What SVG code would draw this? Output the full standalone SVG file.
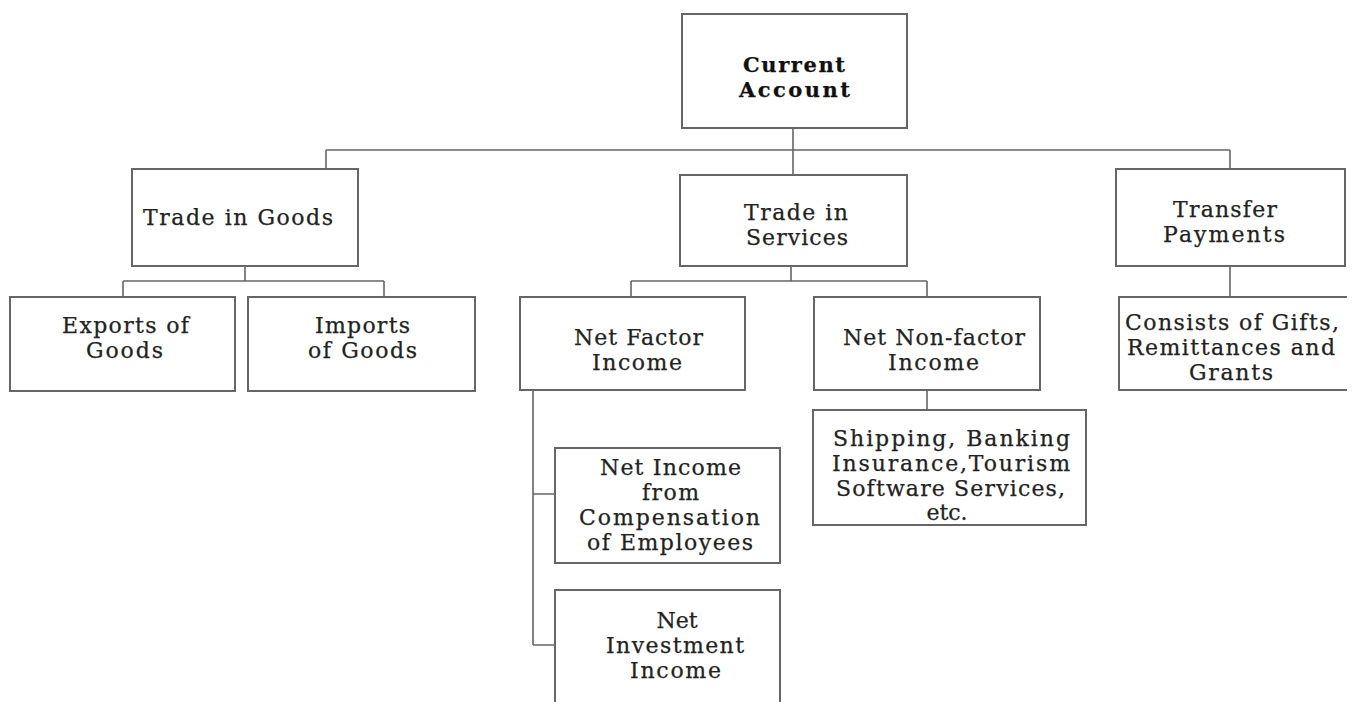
<svg xmlns="http://www.w3.org/2000/svg" width="1352" height="702" viewBox="0 0 1352 702">
<style>
.box{fill:#fff;stroke:#666;stroke-width:2}
.conn{fill:none;stroke:#666;stroke-width:1.6}
text{font-family:"DejaVu Serif","Liberation Serif",serif;font-size:22px;fill:#222;text-anchor:middle;stroke:#222;stroke-width:0.25}
.b{font-weight:bold;fill:#111;stroke:#111;font-size:21px}
</style>
<rect width="1352" height="702" fill="#fff"/>
<g id="connectors">
<path class="conn" d="M793,128 V150 M326,150 H1230 M326,150 V169 M793,150 V175 M1230,150 V169"/>
<path class="conn" d="M245,266 V281 M123,281 H384 M123,281 V297 M384,281 V297"/>
<path class="conn" d="M791,266 V281 M631,281 H927 M631,281 V297 M927,281 V297"/>
<path class="conn" d="M1230,266 V297"/>
<path class="conn" d="M533,390 V645 M533,494 H555 M533,645 H555"/>
<path class="conn" d="M927,390 V410"/>
</g>
<g id="current-account">
<rect class="box" x="682" y="14" width="225" height="114"/>
<text class="b" x="794" y="72" textLength="102" lengthAdjust="spacing">Current</text>
<text class="b" x="794.5" y="97" textLength="111" lengthAdjust="spacing">Account</text>
</g>
<g id="trade-goods">
<rect class="box" x="132" y="169" width="226" height="97"/>
<text x="238" y="225" textLength="190" lengthAdjust="spacing">Trade in Goods</text>
</g>
<g id="trade-services">
<rect class="box" x="680" y="175" width="227" height="91"/>
<text x="796" y="220" textLength="104" lengthAdjust="spacing">Trade in</text>
<text x="797" y="245" textLength="102" lengthAdjust="spacing">Services</text>
</g>
<g id="transfer-payments">
<rect class="box" x="1116" y="169" width="229" height="97"/>
<text x="1225" y="217" textLength="104" lengthAdjust="spacing">Transfer</text>
<text x="1224" y="242" textLength="122" lengthAdjust="spacing">Payments</text>
</g>
<g id="exports">
<rect class="box" x="10" y="297" width="225" height="94"/>
<text x="125.5" y="333" textLength="127" lengthAdjust="spacing">Exports of</text>
<text x="124.5" y="358" textLength="77" lengthAdjust="spacing">Goods</text>
</g>
<g id="imports">
<rect class="box" x="248" y="297" width="227" height="94"/>
<text x="362.5" y="333" textLength="95" lengthAdjust="spacing">Imports</text>
<text x="362.5" y="358" textLength="109" lengthAdjust="spacing">of Goods</text>
</g>
<g id="net-factor">
<rect class="box" x="520" y="297" width="225" height="93"/>
<text x="638.5" y="345" textLength="129" lengthAdjust="spacing">Net Factor</text>
<text x="637" y="370" textLength="90" lengthAdjust="spacing">Income</text>
</g>
<g id="net-nonfactor">
<rect class="box" x="814" y="297" width="226" height="93"/>
<text x="934" y="345" textLength="182" lengthAdjust="spacing">Net Non-factor</text>
<text x="933.5" y="370" textLength="91" lengthAdjust="spacing">Income</text>
</g>
<g id="gifts">
<path class="box" d="M1347,297 H1119 V390 H1347"/>
<text x="1232" y="330" textLength="214" lengthAdjust="spacing">Consists of Gifts,</text>
<text x="1231" y="355" textLength="208" lengthAdjust="spacing">Remittances and</text>
<text x="1231" y="380" textLength="84" lengthAdjust="spacing">Grants</text>
</g>
<g id="shipping">
<rect class="box" x="813" y="410" width="273" height="115"/>
<text x="951.5" y="446" textLength="237" lengthAdjust="spacing">Shipping, Banking</text>
<text x="951" y="471" textLength="238" lengthAdjust="spacing">Insurance,Tourism</text>
<text x="950.5" y="496" textLength="229" lengthAdjust="spacing">Software Services,</text>
<text x="947" y="520">etc.</text>
</g>
<g id="compensation">
<rect class="box" x="555" y="448" width="225" height="115"/>
<text x="670.5" y="475" textLength="141" lengthAdjust="spacing">Net Income</text>
<text x="670.5" y="500" textLength="57" lengthAdjust="spacing">from</text>
<text x="669.5" y="525" textLength="181" lengthAdjust="spacing">Compensation</text>
<text x="670" y="550" textLength="166" lengthAdjust="spacing">of Employees</text>
</g>
<g id="investment">
<rect class="box" x="555" y="590" width="225" height="130"/>
<text x="677" y="628">Net</text>
<text x="675" y="653" textLength="138" lengthAdjust="spacing">Investment</text>
<text x="675.5" y="678" textLength="91" lengthAdjust="spacing">Income</text>
</g>
</svg>
